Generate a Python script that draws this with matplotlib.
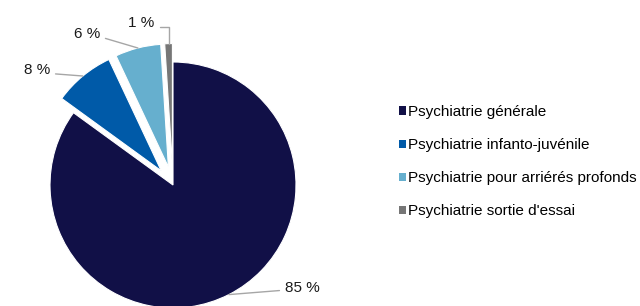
import numpy as np
import matplotlib
matplotlib.use("Agg")
import matplotlib.pyplot as plt

plt.rcParams["font.family"] = ["Liberation Sans", "DejaVu Sans"]

# Données
categories = [
    "Psychiatrie générale",
    "Psychiatrie infanto-juvénile",
    "Psychiatrie pour arriérés profonds",
    "Psychiatrie sortie d'essai",
]
parts = [85, 8, 6, 1]
etiquettes = ["85 %", "8 %", "6 %", "1 %"]
couleurs = ["#111047", "#005AA8", "#66AFCE", "#767676"]
ecart = [0, 0.15, 0.15, 0.15]

# centre du camembert et rayon en pixels
CX, CY, R = 173, 185, 123
W, H = 640, 306


def pix(px, py):
    """pixels (origine en haut a gauche) -> coordonnees du graphique"""
    return (px - CX) / R, (CY - py) / R


fig = plt.figure(figsize=(6.4, 3.06), dpi=100)
ax = fig.add_axes([0, 0, 1, 1])
ax.axis("off")

wedges, _ = ax.pie(
    parts,
    colors=couleurs,
    startangle=90,
    counterclock=False,
    explode=ecart,
    radius=1,
    wedgeprops=dict(edgecolor="white", linewidth=0.8),
)

x0, y1 = pix(0, 0)
x1, y0 = pix(W, H)
ax.set_xlim(x0, x1)
ax.set_ylim(y0, y1)
ax.set_aspect("auto")

# positions des etiquettes (pixels) : x, y, alignement
pos_txt = [(285, 288, "left"), (50, 70, "right"), (100, 34, "right"), (154, 23, "right")]
relpos = [(0, 0.35), (1, 0.25), (1, 0.3), (1, 0.25)]
for w, txt, (px, py, ha), rp, ex in zip(wedges, etiquettes, pos_txt, relpos, ecart):
    ang = np.deg2rad((w.theta1 + w.theta2) / 2)
    r = 1 + ex
    xy = (r * np.cos(ang), r * np.sin(ang))
    conn = "arc3"
    if txt == "1 %":
        conn = "angle,angleA=0,angleB=90,rad=0"
    ax.annotate(
        txt,
        xy=xy,
        xytext=pix(px, py),
        ha=ha,
        va="center",
        fontsize=11,
        color="#1a1a1a",
        arrowprops=dict(arrowstyle="-", color="#a6a6a6", lw=1,
                        shrinkA=2, shrinkB=0, relpos=rp,
                        connectionstyle=conn),
    )

leg = ax.legend(
    wedges,
    categories,
    loc="upper left",
    bbox_to_anchor=(399 / W, 1 - 105 / H),
    frameon=False,
    fontsize=11,
    handlelength=0.46,
    handleheight=0.46,
    handletextpad=0.13,
    labelspacing=1.25,
    borderpad=0,
    borderaxespad=0,
)
for h in leg.legend_handles:
    h.set_edgecolor("none")

fig.savefig("out.png", dpi=100)
